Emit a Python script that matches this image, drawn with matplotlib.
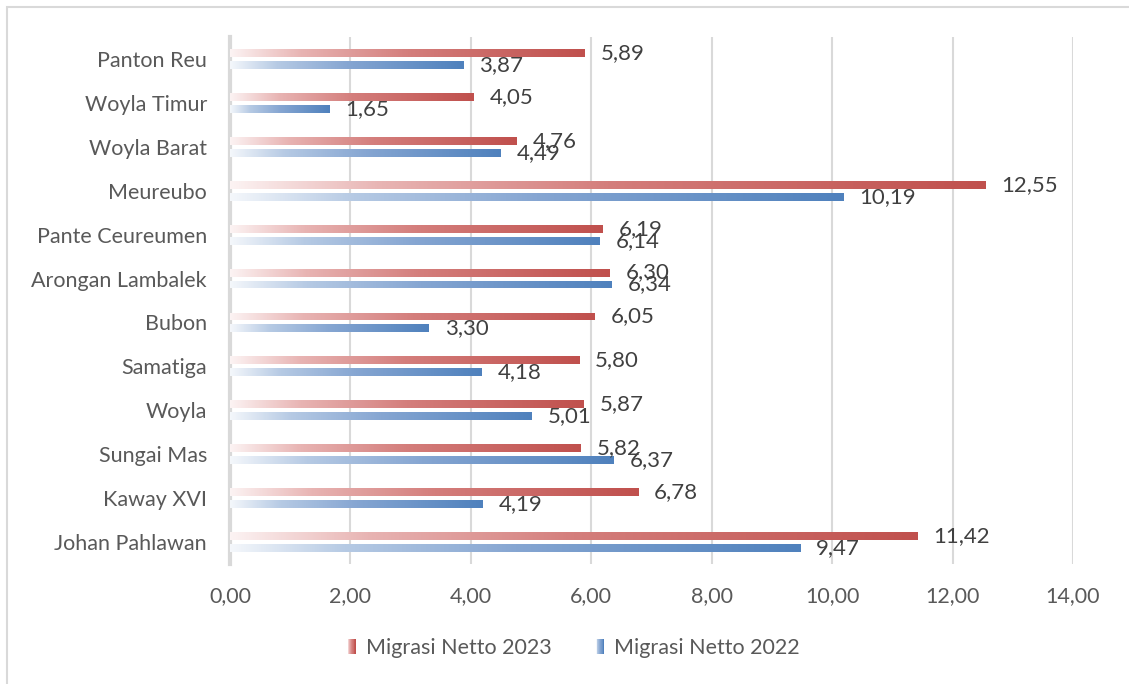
import matplotlib
matplotlib.use("Agg")
import matplotlib.pyplot as plt
import numpy as np
from matplotlib.colors import LinearSegmentedColormap
from matplotlib.patches import Rectangle
from matplotlib.legend_handler import HandlerBase
from matplotlib.lines import Line2D

plt.rcParams['font.family'] = ['Lato', 'DejaVu Sans']

# data, bottom to top as in the chart
kecamatan = ["Johan Pahlawan", "Kaway XVI", "Sungai Mas", "Woyla", "Samatiga",
             "Bubon", "Arongan Lambalek", "Pante Ceureumen", "Meureubo",
             "Woyla Barat", "Woyla Timur", "Panton Reu"]
netto_2023 = [11.42, 6.78, 5.82, 5.87, 5.80, 6.05, 6.30, 6.19, 12.55, 4.76, 4.05, 5.89]
netto_2022 = [9.47, 4.19, 6.37, 5.01, 4.18, 3.30, 6.34, 6.14, 10.19, 4.49, 1.65, 3.87]
xticks = [0, 2, 4, 6, 8, 10, 12, 14]

red_cmap = LinearSegmentedColormap.from_list(
    "r", [(0, "#FCF3F3"), (0.2, "#E8B4B3"), (0.5, "#D47E7C"), (1, "#C0504D")])
blue_cmap = LinearSegmentedColormap.from_list(
    "b", [(0, "#F4F7FB"), (0.2, "#B6CAE4"), (0.5, "#86A6D2"), (1, "#4F81BD")])
grad = np.linspace(0, 1, 256).reshape(1, -1)

fig = plt.figure(figsize=(11.29, 6.84), dpi=100)
ax = fig.add_axes([230 / 1129, 1 - 564 / 684, 843 / 1129, 527 / 684])

y = np.arange(len(kecamatan))
h = 0.18
off = 0.136


def gradient_bars(vals, ypos, cmap):
    bars = ax.barh(ypos, vals, height=h, color="none", edgecolor="none", zorder=3)
    for b in bars:
        x0, y0 = b.get_x(), b.get_y()
        im = ax.imshow(grad, cmap=cmap, aspect="auto", zorder=3,
                       extent=[x0, x0 + b.get_width(), y0, y0 + b.get_height()])
        im.set_clip_path(b)
    return bars


gradient_bars(netto_2023, y + off, red_cmap)
gradient_bars(netto_2022, y - off, blue_cmap)

for yi, v in zip(y, netto_2023):
    ax.annotate(f"{v:.2f}".replace(".", ","), (v, yi + off), xytext=(11.5, 0),
                textcoords="offset points", va="center", ha="left",
                fontsize=16, color="#404040", zorder=5)
for yi, v in zip(y, netto_2022):
    ax.annotate(f"{v:.2f}".replace(".", ","), (v, yi - off), xytext=(11.5, 0),
                textcoords="offset points", va="center", ha="left",
                fontsize=16, color="#404040", zorder=5)

ax.set_xlim(0, 14)
ax.set_ylim(-0.5, len(kecamatan) - 0.5)
ax.set_xticks(xticks)
ax.set_xticklabels([f"{t:.2f}".replace(".", ",") for t in xticks])
ax.set_yticks(y)
ax.set_yticklabels(kecamatan)
ax.tick_params(axis="both", length=0, labelsize=15.5, labelcolor="#595959")
ax.tick_params(axis="x", pad=16)
ax.tick_params(axis="y", pad=16.5)
ax.xaxis.grid(True, color="#D9D9D9", linewidth=1.5, zorder=0)
ax.set_axisbelow(True)
for s in ["top", "right", "bottom"]:
    ax.spines[s].set_visible(False)
ax.spines["left"].set_color("#D9D9D9")
ax.spines["left"].set_linewidth(3)


class GradientHandler(HandlerBase):
    def __init__(self, cmap):
        super().__init__()
        self.cmap = cmap

    def create_artists(self, legend, orig_handle, xdescent, ydescent, width, height,
                       fontsize, trans):
        n = 10
        w = 8.5 / 1.389
        hh = 15.0 / 1.389
        x0 = width - w
        y0 = (height - hh) / 2 - ydescent
        arts = []
        for i in range(n):
            r = Rectangle((x0 + i * w / n, y0), w / n + 0.05, hh,
                          facecolor=self.cmap(i / (n - 1)), edgecolor="none",
                          transform=trans)
            arts.append(r)
        return arts


h23 = Line2D([], [])
h22 = Line2D([], [])
leg = fig.legend([h23, h22], ["Migrasi Netto 2023", "Migrasi Netto 2022"],
                 handler_map={h23: GradientHandler(red_cmap), h22: GradientHandler(blue_cmap)},
                 loc="center", bbox_to_anchor=(573 / 1129, 1 - 648 / 684), ncol=2,
                 frameon=False, fontsize=15.5, handlelength=0.45, handletextpad=0.45,
                 columnspacing=2.0, labelcolor="#595959")

# outer chart border
fig.patches.append(Rectangle((7 / 1129, -0.01), 1.1, 1 - 7 / 684 + 0.01,
                             transform=fig.transFigure, fill=False,
                             edgecolor="#D9D9D9", linewidth=1.5))

fig.savefig("out.png", dpi=100)
